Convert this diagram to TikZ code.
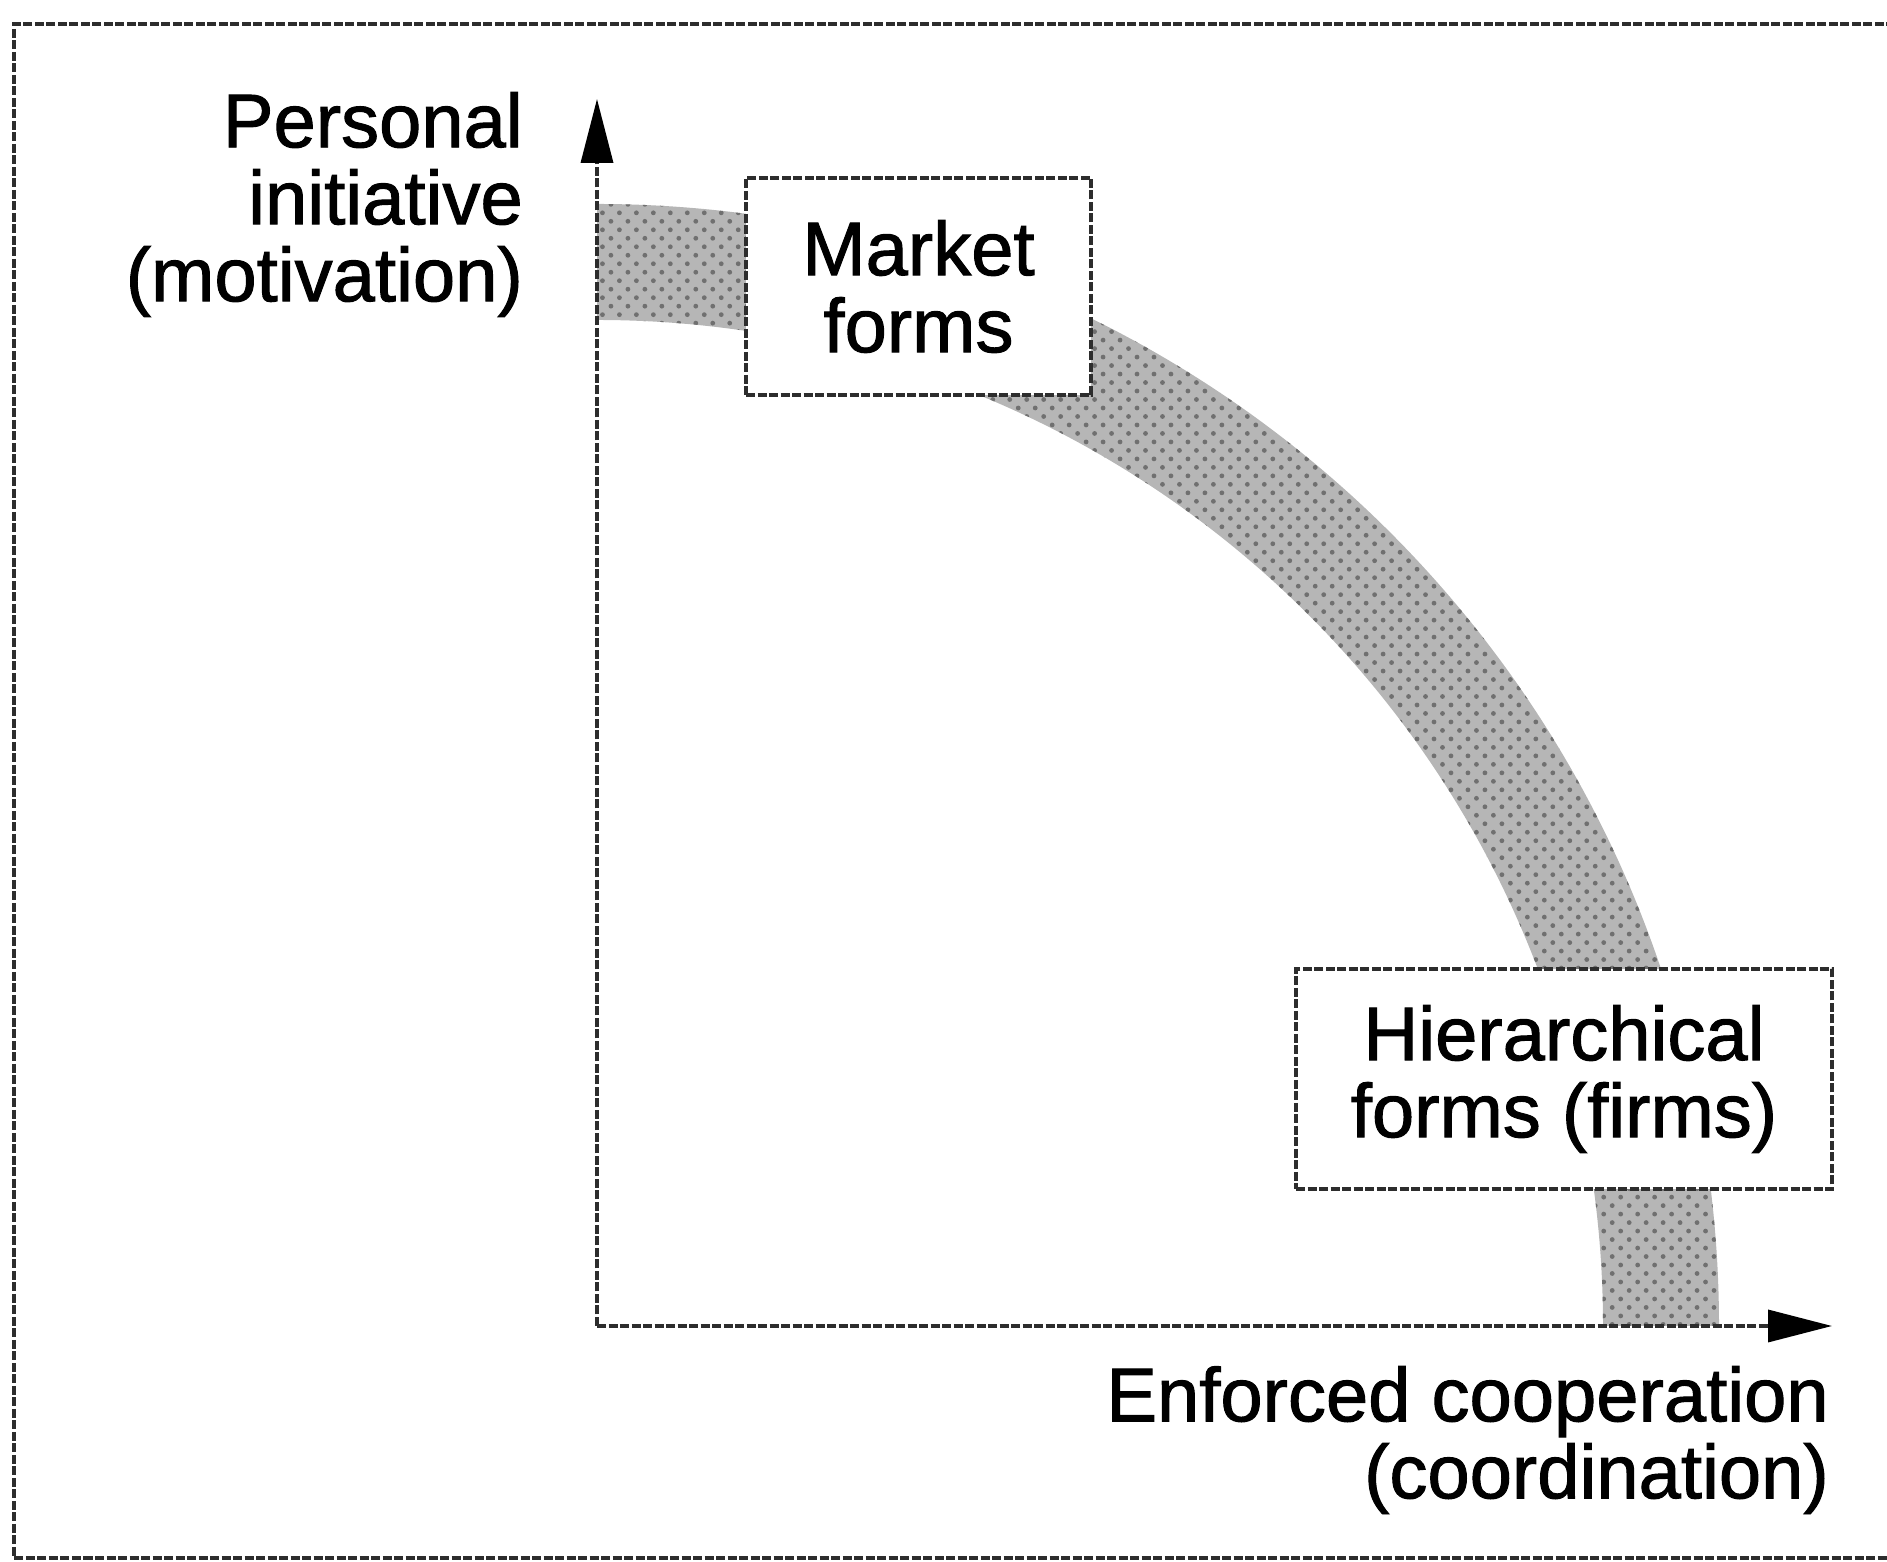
\documentclass[tikz,border=0pt]{standalone}
\usepackage{fontspec}
\setmainfont{Liberation Sans}[UprightFeatures={FakeBold=1.3}]
\usetikzlibrary{arrows.meta,patterns.meta,calc}

\definecolor{inkline}{RGB}{45,45,45}
\definecolor{bandfill}{RGB}{182,182,182}
\definecolor{banddots}{RGB}{112,112,112}

\tikzset{
  rule/.style={draw=inkline, line width=3.5pt, dash pattern=on 9pt off 2.5pt},
  axis/.style={rule, -{Triangle[length=64pt,width=32pt,color=black,fill=black]}},
  formbox/.style={rule, fill=white, inner sep=0pt, align=center},
  label/.style={inner sep=0pt, align=right},
  bigtext/.style={font=\fontsize{76}{77}\selectfont},
}

\begin{document}
\begin{tikzpicture}[x=1pt,y=1pt,bigtext]
  \useasboundingbox (0,0) rectangle (1887,1562);

  % outer frame (right side runs off the page)
  \draw[rule] (1895,1538) -- (14,1538) -- (14,4) -- (1895,4);

  % origin and axis tips
  \coordinate (O) at (597,236);
  \coordinate (ytip) at (597,1463);
  \coordinate (xtip) at (1832,236);

  % trade-off band: quarter ring around the origin
  \fill[bandfill] ($(O)+(1122,0)$) arc[start angle=0,end angle=90,radius=1122]
    -- ++(0,-116) arc[start angle=90,end angle=0,radius=1006] -- cycle;
  \fill[pattern={Dots[distance=12pt,radius=2.4pt,angle=45]},pattern color=banddots]
    ($(O)+(1122,0)$) arc[start angle=0,end angle=90,radius=1122]
    -- ++(0,-116) arc[start angle=90,end angle=0,radius=1006] -- cycle;

  % axes
  \draw[axis] (O) -- (ytip);
  \draw[axis] (O) -- (xtip);

  % organisational forms
  \node[formbox, minimum width=345pt, minimum height=217pt] (market) at (918.5,1275.5)
    {Market\\forms};
  \node[formbox, minimum width=536pt, minimum height=220pt] (hier) at (1564,483)
    {Hierarchical\\forms (firms)};

  % axis labels
  \node[label, anchor=north east] (ylabel) at (523,1470)
    {Personal\\initiative\\(motivation)};
  \node[label, anchor=north east] (xlabel) at (1829,196)
    {Enforced cooperation\\(coordination)};
\end{tikzpicture}
\end{document}
